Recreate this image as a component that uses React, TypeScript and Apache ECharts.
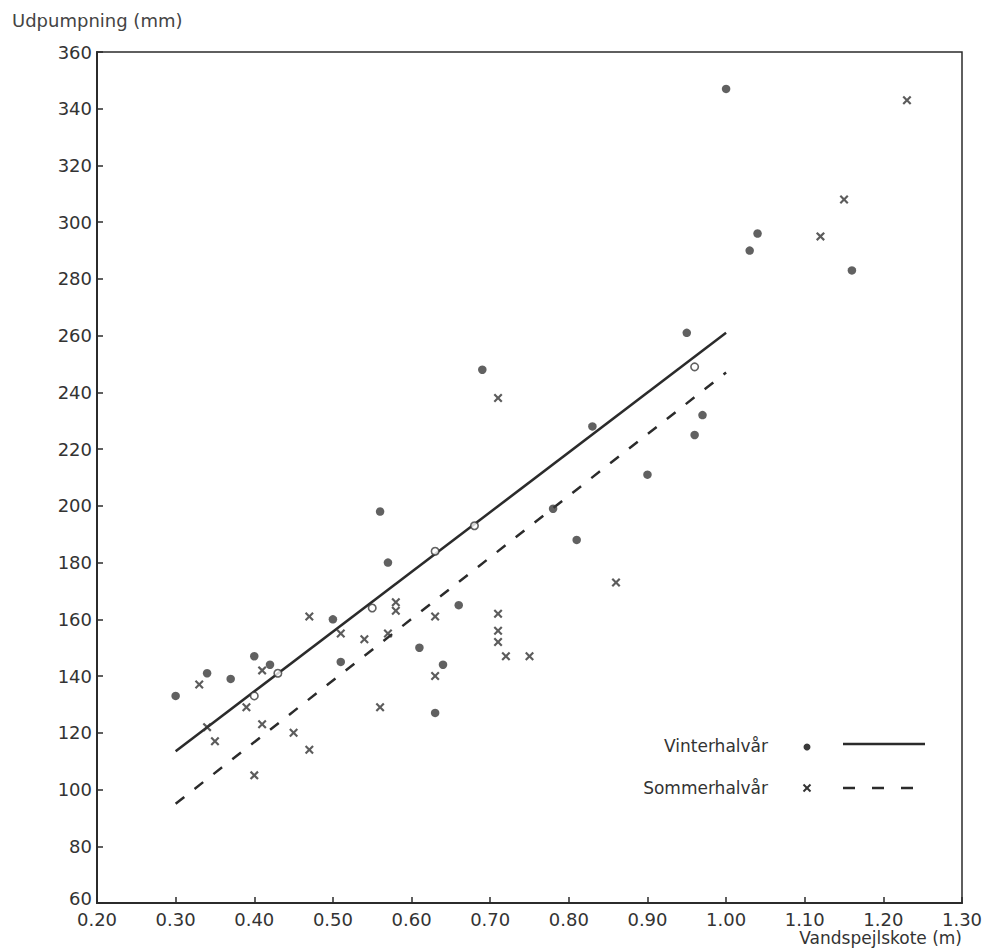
import React, { useEffect, useRef } from "react";
import * as echarts from "echarts";

// Vinterhalvår (filled dots)
const winterPoints: [number, number][] = [
  [0.30, 133], [0.34, 141], [0.37, 139], [0.40, 147], [0.42, 144],
  [0.50, 160], [0.51, 145], [0.56, 198], [0.57, 180], [0.61, 150],
  [0.64, 144], [0.63, 127], [0.66, 165], [0.69, 248], [0.78, 199],
  [0.81, 188], [0.83, 228], [0.90, 211], [0.95, 261], [0.97, 232],
  [0.96, 225], [1.00, 347], [1.03, 290], [1.04, 296], [1.16, 283],
];
// Vinterhalvår points lying on the regression line (drawn open)
const winterOnLine: [number, number][] = [
  [0.40, 133], [0.43, 141], [0.55, 164], [0.63, 184], [0.68, 193], [0.96, 249],
];
// Sommerhalvår (crosses)
const summerPoints: [number, number][] = [
  [0.33, 137], [0.34, 122], [0.35, 117], [0.39, 129], [0.41, 142],
  [0.41, 123], [0.45, 120], [0.47, 114], [0.40, 105], [0.47, 161],
  [0.51, 155], [0.54, 153], [0.57, 155], [0.58, 166], [0.58, 163],
  [0.63, 161], [0.63, 140], [0.56, 129], [0.71, 162], [0.71, 156],
  [0.71, 152], [0.72, 147], [0.75, 147], [0.71, 238], [0.86, 173],
  [1.12, 295], [1.15, 308], [1.23, 343],
];
// Regression lines (end points)
const winterLine: [number, number][] = [[0.30, 113.5], [1.00, 261]];
const summerLine: [number, number][] = [[0.30, 95], [1.00, 247]];

const xTitle = "Vandspejlskote (m)";
const yTitle = "Udpumpning (mm)";
const legendNames = ["Vinterhalvår", "Sommerhalvår"];

const INK = "#2b2b2b";
const FONT = "DejaVu Sans";
const CROSS =
  "path://M0,1.7 L1.7,0 L5,3.3 L8.3,0 L10,1.7 L6.7,5 L10,8.3 L8.3,10 L5,6.7 L1.7,10 L0,8.3 L3.3,5 Z";

export default function App() {
  const ref = useRef<HTMLDivElement>(null);
  useEffect(() => {
    if (!ref.current) return;
    const chart = echarts.init(ref.current, undefined, { renderer: "svg" });
    chart.setOption({
      animation: false,
      backgroundColor: "#ffffff",
      grid: {
        left: 97,
        top: 52,
        width: 865,
        height: 851,
        show: true,
        borderColor: INK,
        borderWidth: 1.5,
      },
      xAxis: {
        type: "value",
        min: 0.2,
        max: 1.3,
        interval: 0.1,
        axisLine: { show: true, lineStyle: { color: INK, width: 2 } },
        axisTick: { show: true, inside: true, length: 6, lineStyle: { color: INK, width: 1.5 } },
        splitLine: { show: false },
        axisLabel: {
          color: "#333",
          fontFamily: FONT,
          fontSize: 18,
          margin: 7,
          formatter: (v: number) => v.toFixed(2),
        },
      },
      yAxis: {
        type: "value",
        min: 60,
        max: 360,
        interval: 20,
        axisLine: { show: true, lineStyle: { color: INK, width: 2 } },
        axisTick: { show: true, inside: true, length: 6, lineStyle: { color: INK, width: 1.5 } },
        splitLine: { show: false },
        axisLabel: {
          color: "#333",
          fontFamily: FONT,
          fontSize: 18,
          margin: 5,
          formatter: (v: number) => (v === 60 ? `{low|${v}}` : String(v)),
          rich: {
            low: {
              color: "#333",
              fontFamily: FONT,
              fontSize: 18,
              padding: [0, 0, 9, 0],
            },
          },
        },
      },
      series: [
        {
          name: legendNames[0],
          type: "line",
          data: winterLine,
          symbol: "none",
          lineStyle: { color: INK, width: 2.5 },
          z: 2,
        },
        {
          name: legendNames[1],
          type: "line",
          data: summerLine,
          symbol: "none",
          lineStyle: { color: INK, width: 2.5, type: [11, 13] },
          z: 2,
        },
        {
          name: legendNames[0],
          type: "scatter",
          data: winterPoints,
          symbol: "circle",
          symbolSize: 8.5,
          itemStyle: { color: "#3a3a3a" },
          z: 3,
        },
        {
          name: legendNames[0],
          type: "scatter",
          data: winterOnLine,
          symbol: "circle",
          symbolSize: 7.5,
          itemStyle: { color: "#ffffff", borderColor: "#3a3a3a", borderWidth: 1.6 },
          z: 3,
        },
        {
          name: legendNames[1],
          type: "scatter",
          data: summerPoints,
          symbol: CROSS,
          symbolSize: 9,
          itemStyle: { color: "#333" },
          z: 3,
        },
      ],
      graphic: [
        {
          type: "text",
          left: 12,
          top: 11,
          style: { text: yTitle, fill: "#444", font: `18px "${FONT}"` },
        },
        {
          type: "text",
          x: 962,
          y: 938,
          style: {
            text: xTitle,
            fill: "#333",
            font: `17px "${FONT}"`,
            align: "right",
            verticalAlign: "middle",
          },
        },
        {
          type: "text",
          x: 768,
          y: 746,
          style: {
            text: legendNames[0],
            fill: "#333",
            font: `17px "${FONT}"`,
            align: "right",
            verticalAlign: "middle",
          },
        },
        {
          type: "circle",
          shape: { cx: 807, cy: 747, r: 3.5 },
          style: { fill: "#3a3a3a" },
        },
        {
          type: "line",
          shape: { x1: 843, y1: 744, x2: 925, y2: 744 },
          style: { stroke: INK, lineWidth: 2.5 },
        },
        {
          type: "text",
          x: 768,
          y: 788,
          style: {
            text: legendNames[1],
            fill: "#333",
            font: `17px "${FONT}"`,
            align: "right",
            verticalAlign: "middle",
          },
        },
        {
          type: "line",
          shape: { x1: 803.5, y1: 784.5, x2: 810.5, y2: 791.5 },
          style: { stroke: "#333", lineWidth: 2 },
        },
        {
          type: "line",
          shape: { x1: 810.5, y1: 784.5, x2: 803.5, y2: 791.5 },
          style: { stroke: "#333", lineWidth: 2 },
        },
        {
          type: "line",
          shape: { x1: 843, y1: 788, x2: 914, y2: 788 },
          style: { stroke: INK, lineWidth: 2.5, lineDash: [12, 17] },
        },
      ],
    });
    return () => chart.dispose();
  }, []);
  return (
    <div
      ref={ref}
      style={{ position: "fixed", left: 0, top: 0, width: 988, height: 950 }}
    />
  );
}
